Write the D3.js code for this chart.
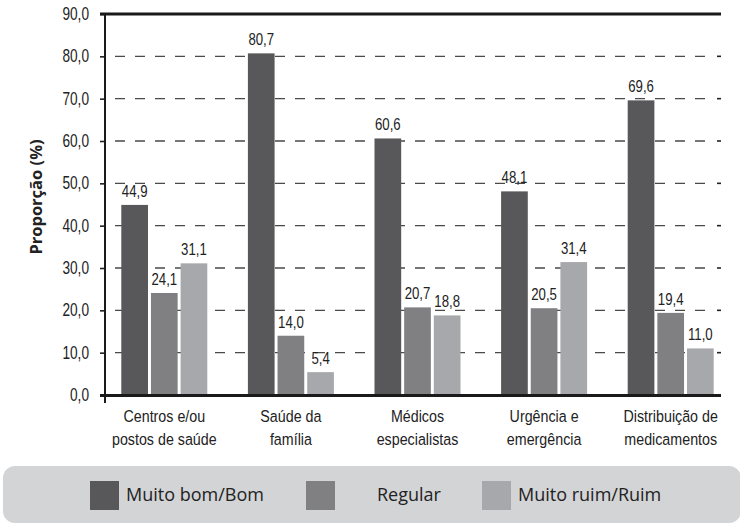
<!DOCTYPE html>
<html>
<head>
<meta charset="utf-8">
<script src="https://cdn.jsdelivr.net/npm/d3@7"></script>
<style>
  body { margin: 0; background: #fff; }
  svg { display: block; }
  .narrow { font-family: "Liberation Sans", Arial, sans-serif; }
</style>
</head>
<body>
<div id="chart"></div>
<script>
// chart values
const categories = [
    ['Centros e/ou', 'postos de saúde'],
    ['Saúde da', 'família'],
    ['Médicos', 'especialistas'],
    ['Urgência e', 'emergência'],
    ['Distribuição de', 'medicamentos']
];
const seriesNames = ['Muito bom/Bom', 'Regular', 'Muito ruim/Ruim'];
const muitoBom = [44.9, 80.7, 60.6, 48.1, 69.6];
const regular = [24.1, 14.0, 20.7, 20.5, 19.4];
const muitoRuim = [31.1, 5.4, 18.8, 31.4, 11.0];
const yTicks = [0, 10, 20, 30, 40, 50, 60, 70, 80, 90];

const colors = ['#58585a', '#808083', '#a7a8ab'];

const width = 740, height = 525;
const plot = { left: 105, right: 721, top: 14, bottom: 395 };

const svg = d3.select('#chart').append('svg')
    .attr('width', width)
    .attr('height', height);

const keys = categories.map(c => c.join(' '));
const rows = keys.map((k, i) => ({ key: k, lines: categories[i], values: [muitoBom[i], regular[i], muitoRuim[i]] }));

// scales
const x0 = d3.scaleBand().domain(keys).range([101, 734]);
const x1 = d3.scaleBand().domain(d3.range(3)).range([-43, 43]).paddingInner(0.1);
const y = d3.scaleLinear().domain([0, 90]).range([plot.bottom, plot.top]);

const fmt = d => d.toFixed(1).replace('.', ',');

// dashed grid
svg.append('g')
    .selectAll('line')
    .data(yTicks.filter(t => t > 0 && t < 90))
    .join('line')
    .attr('x1', plot.left + 10).attr('x2', plot.right - 6)
    .attr('y1', d => y(d)).attr('y2', d => y(d))
    .attr('stroke', '#4a4a4a')
    .attr('stroke-width', 1.3)
    .attr('stroke-dasharray', '10,10');

// right side small ticks
svg.append('g')
    .selectAll('line')
    .data(yTicks.filter(t => t > 0 && t < 90))
    .join('line')
    .attr('x1', plot.right - 4).attr('x2', plot.right)
    .attr('y1', d => y(d)).attr('y2', d => y(d))
    .attr('stroke', '#222')
    .attr('stroke-width', 1.6);

// bars
const groups = svg.append('g')
    .selectAll('g')
    .data(rows)
    .join('g')
    .attr('transform', d => `translate(${x0(d.key) + x0.bandwidth() / 2},0)`);

groups.selectAll('rect')
    .data(d => d.values)
    .join('rect')
    .attr('x', (d, i) => x1(i))
    .attr('width', x1.bandwidth())
    .attr('y', d => y(d))
    .attr('height', d => y(0) - y(d))
    .attr('fill', (d, i) => colors[i]);

groups.selectAll('text.val')
    .data(d => d.values)
    .join('text')
    .attr('class', 'val narrow')
    .attr('transform', (d, i) => `translate(${x1(i) + x1.bandwidth() / 2},${y(d) - 8}) scale(0.8,1)`)
    .attr('text-anchor', 'middle')
    .style('font-size', '16.5px')
    .attr('fill', '#222')
    .text(fmt);

// y axis
const tickSqueeze = 0.78;
const yAxis = d3.axisLeft(y)
    .tickValues(yTicks)
    .tickSize(5)
    .tickPadding(11)
    .tickFormat(fmt);

const yAxisG = svg.append('g')
    .attr('transform', `translate(${plot.left},0)`)
    .call(yAxis);
yAxisG.select('.domain').remove();
yAxisG.attr('font-family', null).attr('font-size', null);
yAxisG.selectAll('.tick line').attr('stroke', '#222').attr('stroke-width', 1.6);
yAxisG.selectAll('text')
    .attr('class', 'narrow')
    .attr('x', -16 / tickSqueeze)
    .attr('transform', `scale(${tickSqueeze},1)`)
    .style('font-size', '17.5px')
    .attr('fill', '#222');

// frame lines
svg.append('line')
    .attr('x1', plot.left).attr('x2', plot.left)
    .attr('y1', plot.top - 1).attr('y2', plot.bottom + 8)
    .attr('stroke', '#1a1a1a').attr('stroke-width', 2);
svg.append('line')
    .attr('x1', plot.left - 5).attr('x2', plot.right)
    .attr('y1', y(90)).attr('y2', y(90))
    .attr('stroke', '#1a1a1a').attr('stroke-width', 3);
svg.append('line')
    .attr('x1', plot.left - 5).attr('x2', plot.right)
    .attr('y1', y(0) + 0.5).attr('y2', y(0) + 0.5)
    .attr('stroke', '#1a1a1a').attr('stroke-width', 3);

// category labels
const xl = svg.append('g')
    .selectAll('text')
    .data(rows)
    .join('text')
    .attr('class', 'narrow')
    .attr('transform', d => `translate(${x0(d.key) + x0.bandwidth() / 2},422) scale(0.84,1)`)
    .attr('text-anchor', 'middle')
    .style('font-size', '17px')
    .attr('fill', '#222');
xl.selectAll('tspan')
    .data(d => d.lines)
    .join('tspan')
    .attr('x', 0)
    .attr('dy', (d, i) => i === 0 ? 0 : 23)
    .text(d => d);

// y title
svg.append('text')
    .attr('transform', `translate(42,197) rotate(-90)`)
    .attr('text-anchor', 'middle')
    .style('font-family', '"Open Sans", sans-serif')
    .style('font-weight', 'bold')
    .style('font-size', '16.5px')
    .attr('fill', '#222')
    .text('Proporção (%)');

// legend
const legend = svg.append('g');
legend.append('rect')
    .attr('x', 3).attr('y', 466)
    .attr('width', 738).attr('height', 57)
    .attr('rx', 12)
    .attr('fill', '#d3d4d6');

const legendX = [90, 306, 482];
const items = legend.selectAll('g')
    .data(seriesNames)
    .join('g')
    .attr('transform', (d, i) => `translate(${legendX[i]},481)`);
items.append('rect')
    .attr('width', 29).attr('height', 29)
    .attr('fill', (d, i) => colors[i]);
items.append('text')
    .attr('x', (d, i) => i === 1 ? 71 : 36)
    .attr('y', 20)
    .style('font-family', '"Open Sans", sans-serif')
    .style('font-size', '18px')
    .attr('fill', '#222')
    .text(d => d);
</script>
</body>
</html>
